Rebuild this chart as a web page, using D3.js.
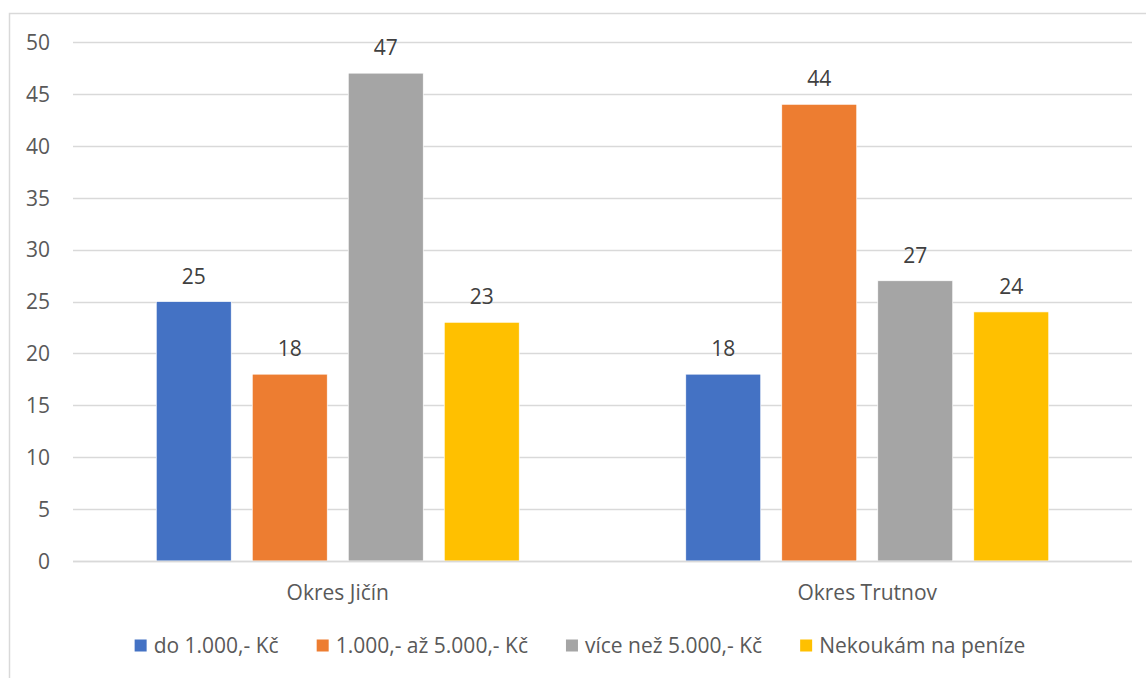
<!DOCTYPE html>
<html><head><meta charset="utf-8">
<script src="https://cdn.jsdelivr.net/npm/d3@7"></script>
<style>
html,body{margin:0;padding:0;background:#fff;}
svg{display:block;font-family:"Open Sans",sans-serif;}
</style></head>
<body>
<svg id="c" width="1146" height="678"></svg>
<script>
const categories = ["Okres Jičín", "Okres Trutnov"];
const seriesNames = ["do 1.000,- Kč", "1.000,- až 5.000,- Kč", "více než 5.000,- Kč", "Nekoukám na peníze"];
const seriesColors = ["#4472C4", "#ED7D31", "#A5A5A5", "#FFC000"];
const doDo1000 = [25, 18];
const od1000do5000 = [18, 44];
const viceNez5000 = [47, 27];
const nekoukam = [23, 24];
const yTicks = [0, 5, 10, 15, 20, 25, 30, 35, 40, 45, 50];

const seriesValues = [doDo1000, od1000do5000, viceNez5000, nekoukam];

(function() {
const svg = d3.select("#c");
const fontSize = 21;

svg.append("rect").attr("x", 9.5).attr("y", 13.5).attr("width", 1300).attr("height", 800)
  .attr("fill", "none").attr("stroke", "#d9d9d9").attr("stroke-width", 1.5);

const pLeft = 73, pRight = 1132, pTop = 42, pBottom = 561;
const y = d3.scaleLinear().domain([0, 50]).range([pBottom, pTop]);
const x0 = d3.scaleBand().domain(categories).range([pLeft, pRight]).paddingInner(0).paddingOuter(0);
const groupW = 363;
const off = (x0.bandwidth() - groupW) / 2;
const x1 = d3.scaleBand().domain(seriesNames).range([off, off + groupW]).paddingInner(21 / 96).paddingOuter(0);

svg.append("g").selectAll("line").data(yTicks).join("line")
  .attr("x1", pLeft).attr("x2", pRight)
  .attr("y1", d => Math.round(y(d)) + 0.5).attr("y2", d => Math.round(y(d)) + 0.5)
  .attr("stroke", "#d9d9d9").attr("stroke-width", 1.3);

const yAxis = d3.axisLeft(y).tickValues(yTicks).tickSize(0).tickPadding(0);
const gy = svg.append("g").attr("transform", `translate(50,0)`).call(yAxis);
gy.select(".domain").remove();
gy.selectAll("text").attr("font-size", fontSize).attr("fill", "#595959")
  .attr("font-family", "'Open Sans',sans-serif").attr("dy", "0.35em");

const groups = svg.append("g").selectAll("g").data(categories).join("g")
  .attr("transform", d => `translate(${x0(d)},0)`);
groups.each(function(cat, ci) {
  const g = d3.select(this);
  const data = seriesNames.map((s, si) => ({s, si, v: seriesValues[si][ci]}));
  g.selectAll("rect").data(data).join("rect")
    .attr("x", d => x1(d.s)).attr("width", x1.bandwidth())
    .attr("y", d => y(d.v)).attr("height", d => y(0) - y(d.v))
    .attr("fill", d => seriesColors[d.si])
    .attr("stroke", "#fff").attr("stroke-width", 0.7);
  g.selectAll("text").data(data).join("text")
    .attr("x", d => x1(d.s) + x1.bandwidth() / 2)
    .attr("y", d => y(d.v) - 18)
    .attr("text-anchor", "middle").attr("font-size", fontSize).attr("fill", "#404040")
    .text(d => d.v);
});

svg.append("line").attr("x1", pLeft).attr("x2", pRight).attr("y1", pBottom + 0.5).attr("y2", pBottom + 0.5)
  .attr("stroke", "#d9d9d9").attr("stroke-width", 1.3);

const xAxis = d3.axisBottom(x0).tickSize(0).tickPadding(0);
const gx = svg.append("g").attr("transform", `translate(0,${pBottom})`).call(xAxis);
gx.select(".domain").remove();
gx.selectAll("text").attr("font-size", fontSize).attr("fill", "#595959")
  .attr("font-family", "'Open Sans',sans-serif").attr("dy", null).attr("y", 38.5);

const legend = svg.append("g");
const items = legend.selectAll("g").data(seriesNames).join("g");
items.append("rect").attr("width", 12).attr("height", 12).attr("y", -6)
  .attr("fill", (d, i) => seriesColors[i]);
items.append("text").attr("x", 19).attr("y", 0).attr("dy", "0.35em")
  .attr("font-size", fontSize).attr("fill", "#595959").text(d => d);
const gap = 38;
let cx = 0;
const widths = [];
items.each(function() { widths.push(this.getBBox().width); });
const total = d3.sum(widths) + gap * (widths.length - 1);
const startX = 580 - total / 2;
items.attr("transform", (d, i) => {
  const t = `translate(${startX + cx},645.5)`;
  cx += widths[i] + gap;
  return t;
});
})();
</script>
</body></html>
